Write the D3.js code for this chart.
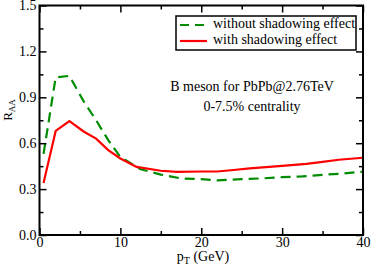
<!DOCTYPE html>
<html><head><meta charset="utf-8">
<script src="https://cdn.jsdelivr.net/npm/d3@7"></script>
<style>body{margin:0;background:#fff}svg{display:block}text{font-family:"Liberation Serif","Times New Roman",serif;fill:#000}</style>
</head><body><svg id="c" width="374" height="267"></svg>
<script>
const ptNoShadow = [0.5, 2, 3.7, 5.5, 7, 8.5, 10, 12.5, 15, 17.5, 20, 22, 25, 27.5, 30, 32.5, 35, 37.5, 40];
const raaNoShadow = [0.53, 1.03, 1.04, 0.87, 0.75, 0.62, 0.51, 0.43, 0.395, 0.37, 0.365, 0.357, 0.365, 0.37, 0.378, 0.383, 0.393, 0.402, 0.414];
const ptShadow = [0.5, 2, 3.7, 5.5, 7, 8.5, 10, 12, 15, 17, 20, 22, 24, 26, 28, 30, 33, 35, 37, 40];
const raaShadow = [0.34, 0.68, 0.745, 0.675, 0.63, 0.555, 0.5, 0.445, 0.42, 0.412, 0.415, 0.415, 0.425, 0.435, 0.443, 0.452, 0.465, 0.478, 0.492, 0.505];
const xTicks = [0, 10, 20, 30, 40];
const yTicks = [0.0, 0.3, 0.6, 0.9, 1.2, 1.5];
const legendLabels = ["without shadowing effect", "with shadowing effect"];
const annotation = ["B meson for PbPb@2.76TeV", "0-7.5% centrality"];

const L = 39.5, R = 363, T = 5.5, B = 235;
const svg = d3.select("#c");
const x = d3.scaleLinear().domain([0, 40]).range([L, R]);
const y = d3.scaleLinear().domain([0, 1.5]).range([B, T]);

const line = d3.line().x(d => x(d[0])).y(d => y(d[1]));
svg.append("path").datum(d3.zip(ptNoShadow, raaNoShadow)).attr("d", line)
  .attr("fill", "none").attr("stroke", "#008c00").attr("stroke-width", 2.2).attr("stroke-dasharray", "10,6");
svg.append("path").datum(d3.zip(ptShadow, raaShadow)).attr("d", line)
  .attr("fill", "none").attr("stroke", "#ff0000").attr("stroke-width", 2.2);

// axes (ticks inward)
const fmtY = d3.format(".1f");
const ax = svg.append("g");
function addAxis(axisGen, tr, labels) {
  const g = ax.append("g").attr("transform", tr).call(axisGen);
  g.select(".domain").remove();
  g.selectAll("line").attr("stroke", "#000").attr("stroke-width", 1.5);
  if (!labels) g.selectAll("text").remove();
  else g.selectAll("text").style("font-size", "14px").attr("fill", "#000");
  return g;
}
const minorX = d3.range(5, 40, 10);
const minorY = d3.range(0.15, 1.5, 0.3);
addAxis(d3.axisBottom(x).tickValues(xTicks).tickSize(-7).tickPadding(2).tickFormat(d3.format("d")), `translate(0,${B})`, true);
addAxis(d3.axisBottom(x).tickValues(minorX).tickSize(-4).tickFormat(""), `translate(0,${B})`, false);
addAxis(d3.axisTop(x).tickValues(xTicks).tickSize(-7).tickFormat(""), `translate(0,${T})`, false);
addAxis(d3.axisTop(x).tickValues(minorX).tickSize(-4).tickFormat(""), `translate(0,${T})`, false);
addAxis(d3.axisLeft(y).tickValues(yTicks).tickSize(-7).tickPadding(3).tickFormat(fmtY), `translate(${L},0)`, true);
addAxis(d3.axisLeft(y).tickValues(minorY).tickSize(-4).tickFormat(""), `translate(${L},0)`, false);
addAxis(d3.axisRight(y).tickValues(yTicks).tickSize(-7).tickFormat(""), `translate(${R},0)`, false);
addAxis(d3.axisRight(y).tickValues(minorY).tickSize(-4).tickFormat(""), `translate(${R},0)`, false);
svg.append("rect").attr("x", L).attr("y", T).attr("width", R - L).attr("height", B - T)
  .attr("fill", "none").attr("stroke", "#000").attr("stroke-width", 2);

// legend
const lg = svg.append("g");
lg.append("rect").attr("x", 176).attr("y", 16).attr("width", 180).attr("height", 34)
  .attr("fill", "#fff").attr("stroke", "#000").attr("stroke-width", 1.5);
const legStyles = [{c: "#008c00", d: "9,6"}, {c: "#ff0000", d: null}];
legendLabels.forEach((t, i) => {
  const yy = 25 + i * 16;
  lg.append("line").attr("x1", 180).attr("x2", 207).attr("y1", yy).attr("y2", yy)
    .attr("stroke", legStyles[i].c).attr("stroke-width", 2.2).attr("stroke-dasharray", legStyles[i].d);
  lg.append("text").attr("x", 213).attr("y", yy + 3).style("font-size", "14px").text(t);
});

// annotation
annotation.forEach((t, i) => {
  svg.append("text").attr("x", 252).attr("y", 91 + i * 20).attr("text-anchor", "middle").style("font-size", "14px").text(t);
});

// axis titles
const xt = svg.append("text").attr("x", 203).attr("y", 261).attr("text-anchor", "middle").style("font-size", "14px");
xt.append("tspan").text("p");
xt.append("tspan").attr("dy", 3).style("font-size", "10px").text("T");
xt.append("tspan").attr("dy", -3).text(" (GeV)");
const yt = svg.append("text").attr("transform", "translate(12,110) rotate(-90)").attr("text-anchor", "middle").style("font-size", "13px");
yt.append("tspan").text("R");
yt.append("tspan").attr("dy", 3).style("font-size", "9px").text("AA");
</script></body></html>
